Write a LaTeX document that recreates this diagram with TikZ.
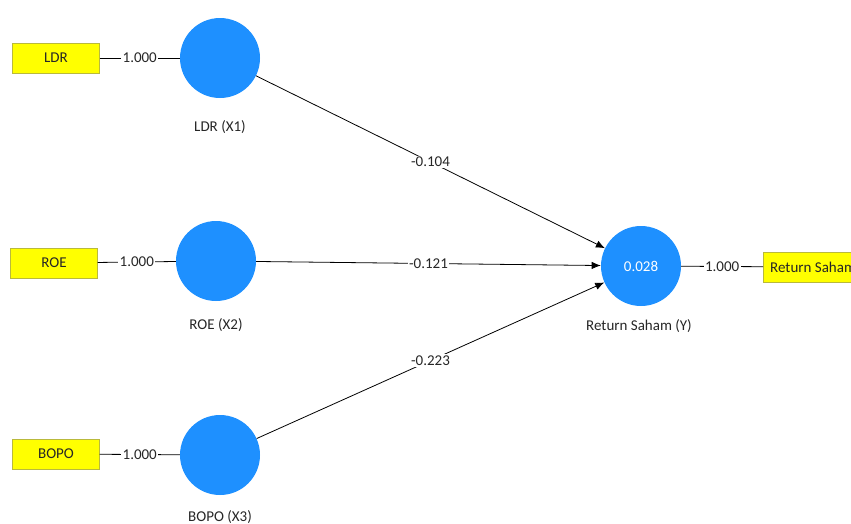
\documentclass[tikz,border=0pt]{standalone}
\usepackage{fontspec}
\setmainfont{Carlito}
\usetikzlibrary{positioning,arrows.meta}
\definecolor{latblue}{RGB}{30,144,255}
\definecolor{indyellow}{RGB}{255,255,0}
\definecolor{indborder}{RGB}{185,185,60}

\begin{document}
\begin{tikzpicture}[x=1pt,y=-1pt,font=\fontsize{15}{17}\selectfont,text=black!85,
  lat/.style={circle,fill=latblue,minimum size=80pt,inner sep=0pt},
  ind/.style={draw=indborder,fill=indyellow,minimum width=87pt,minimum height=30pt,inner sep=3pt},
  load/.style={fill=white,inner sep=1.5pt},
  arr/.style={-{Latex[length=3.2mm,width=2.6mm]},line width=0.8pt}]
  \useasboundingbox (0,0) rectangle (851,523);
  \clip (0,0) rectangle (851,523);
  % indicators (left), latent variables, endogenous construct (right)
  \node[ind] (ldrbox) at (56,58) {LDR};
  \node[ind] (roebox) at (54,263) {ROE};
  \node[ind] (bopobox) at (56,454) {BOPO};
  \node[lat] (ldr) at (220,58) {};
  \node[lat] (roe) at (216,261) {};
  \node[lat] (bopo) at (220,455) {};
  \node[lat,text=white] (rs) at (641,266) {0.028};
  \node[ind,anchor=west,inner xsep=7pt] (rsbox) at (763,267) {Return Saham};
  \node (ldrlab) at (220,127) {LDR (X1)};
  \node (roelab) at (216,325) {ROE (X2)};
  \node (bopolab) at (220,517) {BOPO (X3)};
  \node (rslab) at (639,326) {Return Saham (Y)};
  \draw[line width=0.8pt] (ldrbox) -- node[load]{1.000} (ldr);
  \draw[line width=0.8pt] (roebox) -- node[load]{1.000} (roe);
  \draw[line width=0.8pt] (bopobox) -- node[load]{1.000} (bopo);
  \draw[line width=0.8pt] (rs) -- node[load]{1.000} (rsbox);
  \draw[arr] (ldr) -- node[load]{-0.104} (rs);
  \draw[arr] (roe) -- node[load]{-0.121} (rs);
  \draw[arr] (bopo) -- node[load]{-0.223} (rs);
\end{tikzpicture}
\end{document}
